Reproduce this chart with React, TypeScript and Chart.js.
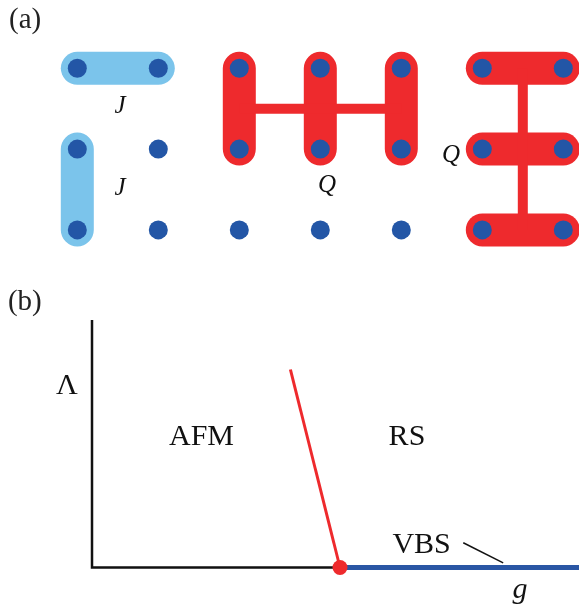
import React, { useEffect, useRef } from "react";
import { Chart, registerables } from "chart.js";

Chart.register(...registerables);

// ---------- Panel (a): lattice (column, row) ----------
const SITE_COLS = [0, 1, 2, 3, 4, 5, 6];
const SITE_ROWS = [0, 1, 2];
// J bonds (light blue singlets)
const J_BONDS = [
  [[0, 0], [1, 0]],
  [[0, 1], [0, 2]],
];
// Q bond pairs (red)
const Q_BONDS = [
  [[2, 0], [2, 1]],
  [[3, 0], [3, 1]],
  [[4, 0], [4, 1]],
  [[5, 0], [6, 0]],
  [[5, 1], [6, 1]],
  [[5, 2], [6, 2]],
];
// Q links joining bond pairs
const Q_LINKS = [
  [[2, 0.5], [4, 0.5]],
  [[5.5, 0], [5.5, 2]],
];
// Lattice labels: [text, col, row(baseline), italic]
const LATTICE_LABELS: [string, number, number, boolean][] = [
  ["J", 0.527, 0.553, true],
  ["J", 0.527, 1.568, true],
  ["Q", 3.083, 1.531, true],
  ["Q", 4.614, 1.16, true],
];

// ---------- Panel (b): phase diagram (g, Λ) ----------
const AXIS_LINE = [
  { x: 0, y: 1 },
  { x: 0, y: 0 },
  { x: 1, y: 0 },
];
const VBS_LINE = [
  { x: 1, y: 0 },
  { x: 1.98, y: 0 },
];
const TRANSITION_LINE = [
  { x: 0.8, y: 0.8 },
  { x: 1, y: 0 },
];
const CRITICAL_POINT = [{ x: 1, y: 0 }];
const VBS_POINTER = [
  { x: 1.497, y: 0.1 },
  { x: 1.658, y: 0.019 },
];
// Phase labels: [text, g, Λ(baseline), italic]
const PHASE_LABELS: [string, number, number, boolean][] = [
  ["Λ", -0.101, 0.703, false],
  ["AFM", 0.4415, 0.495, false],
  ["RS", 1.27, 0.495, false],
  ["VBS", 1.329, 0.0586, false],
  ["g", 1.726, -0.123, true],
];
// Panel tags: [text, scale set, x, y]
const PANEL_TAGS: [string, string, number, number][] = [
  ["(a)", "a", -0.843, -0.499],
  ["(b)", "b", -0.339, 1.04],
];

const DOT_BLUE = "#2356a6";
const LIGHT_BLUE = "#7bc4eb";
const RED = "#ee2a2d";
const LINE_BLUE = "#2a56a4";
const SERIF = "'Liberation Serif', 'Times New Roman', serif";

function seg(p: number[][]) {
  return p.map(([x, y]) => ({ x, y }));
}

export default function App() {
  const ref = useRef<HTMLCanvasElement | null>(null);

  useEffect(() => {
    if (!ref.current) return;
    const sites: { x: number; y: number }[] = [];
    SITE_ROWS.forEach((r) => SITE_COLS.forEach((c) => sites.push({ x: c, y: r })));

    const lineDs = (
      data: { x: number; y: number }[],
      color: string,
      width: number,
      axes: "a" | "b",
      cap: CanvasLineCap,
      order: number
    ) => ({
      type: "line" as const,
      data,
      xAxisID: "x" + axes,
      yAxisID: "y" + axes,
      borderColor: color,
      backgroundColor: color,
      borderWidth: width,
      borderCapStyle: cap,
      borderJoinStyle: "miter" as CanvasLineJoin,
      pointRadius: 0,
      tension: 0,
      fill: false,
      clip: false as any,
      order,
    });

    const datasets: any[] = [];
    J_BONDS.forEach((b) => datasets.push(lineDs(seg(b), LIGHT_BLUE, 33, "a", "round", 3)));
    Q_BONDS.forEach((b) => datasets.push(lineDs(seg(b), RED, 33, "a", "round", 3)));
    Q_LINKS.forEach((b) => datasets.push(lineDs(seg(b), RED, 10, "a", "butt", 2)));
    datasets.push({
      type: "scatter",
      data: sites,
      xAxisID: "xa",
      yAxisID: "ya",
      pointRadius: 9.5,
      pointBackgroundColor: DOT_BLUE,
      pointBorderWidth: 0,
      clip: false,
      order: 0,
    });
    datasets.push(lineDs(AXIS_LINE, "#111111", 2.5, "b", "butt", 3));
    datasets.push(lineDs(VBS_LINE, LINE_BLUE, 5, "b", "butt", 3));
    datasets.push(lineDs(TRANSITION_LINE, RED, 3, "b", "butt", 2));
    datasets.push(lineDs(VBS_POINTER, "#111111", 1.5, "b", "butt", 2));
    datasets.push({
      type: "scatter",
      data: CRITICAL_POINT,
      xAxisID: "xb",
      yAxisID: "yb",
      pointRadius: 7.5,
      pointBackgroundColor: RED,
      pointBorderWidth: 0,
      clip: false,
      order: 0,
    });

    const textPlugin = {
      id: "textLabels",
      afterDatasetsDraw(chart: any) {
        const ctx = chart.ctx;
        const s = chart.scales;
        ctx.save();
        ctx.fillStyle = "#111111";
        ctx.textBaseline = "alphabetic";
        ctx.textAlign = "center";
        LATTICE_LABELS.forEach(([t, x, y, it]) => {
          ctx.font = `${it ? "italic " : ""}25px ${SERIF}`;
          ctx.fillText(t, s.xa.getPixelForValue(x), s.ya.getPixelForValue(y));
        });
        PHASE_LABELS.forEach(([t, x, y, it]) => {
          ctx.font = `${it ? "italic " : ""}30px ${SERIF}`;
          ctx.fillText(t, s.xb.getPixelForValue(x), s.yb.getPixelForValue(y));
        });
        ctx.textAlign = "left";
        ctx.fillStyle = "#222222";
        PANEL_TAGS.forEach(([t, set, x, y]) => {
          ctx.font = `29px ${SERIF}`;
          ctx.fillText(t, s["x" + set].getPixelForValue(x), s["y" + set].getPixelForValue(y));
        });
        ctx.restore();
      },
    };

    const hidden = { display: false, grid: { display: false } };
    const chart = new Chart(ref.current, {
      type: "scatter",
      data: { datasets },
      options: {
        animation: false,
        responsive: true,
        maintainAspectRatio: false,
        events: [],
        layout: { padding: 0, autoPadding: false },
        plugins: { legend: { display: false }, tooltip: { enabled: false } },
        scales: {
          xa: { ...hidden, type: "linear", axis: "x", min: -0.9543, max: 6.1938 },
          ya: { ...hidden, type: "linear", axis: "y", reverse: true, min: -0.8453, max: 6.7042 },
          xb: { ...hidden, type: "linear", axis: "x", min: -0.371, max: 1.9637 },
          yb: { ...hidden, type: "linear", axis: "y", min: -0.1717, max: 2.2929 },
        },
      } as any,
      plugins: [textPlugin],
    });
    return () => chart.destroy();
  }, []);

  return (
    <div
      style={{
        position: "absolute",
        left: 0,
        top: 0,
        width: "579px",
        height: "610px",
        background: "#ffffff",
      }}
    >
      <canvas ref={ref} />
    </div>
  );
}
